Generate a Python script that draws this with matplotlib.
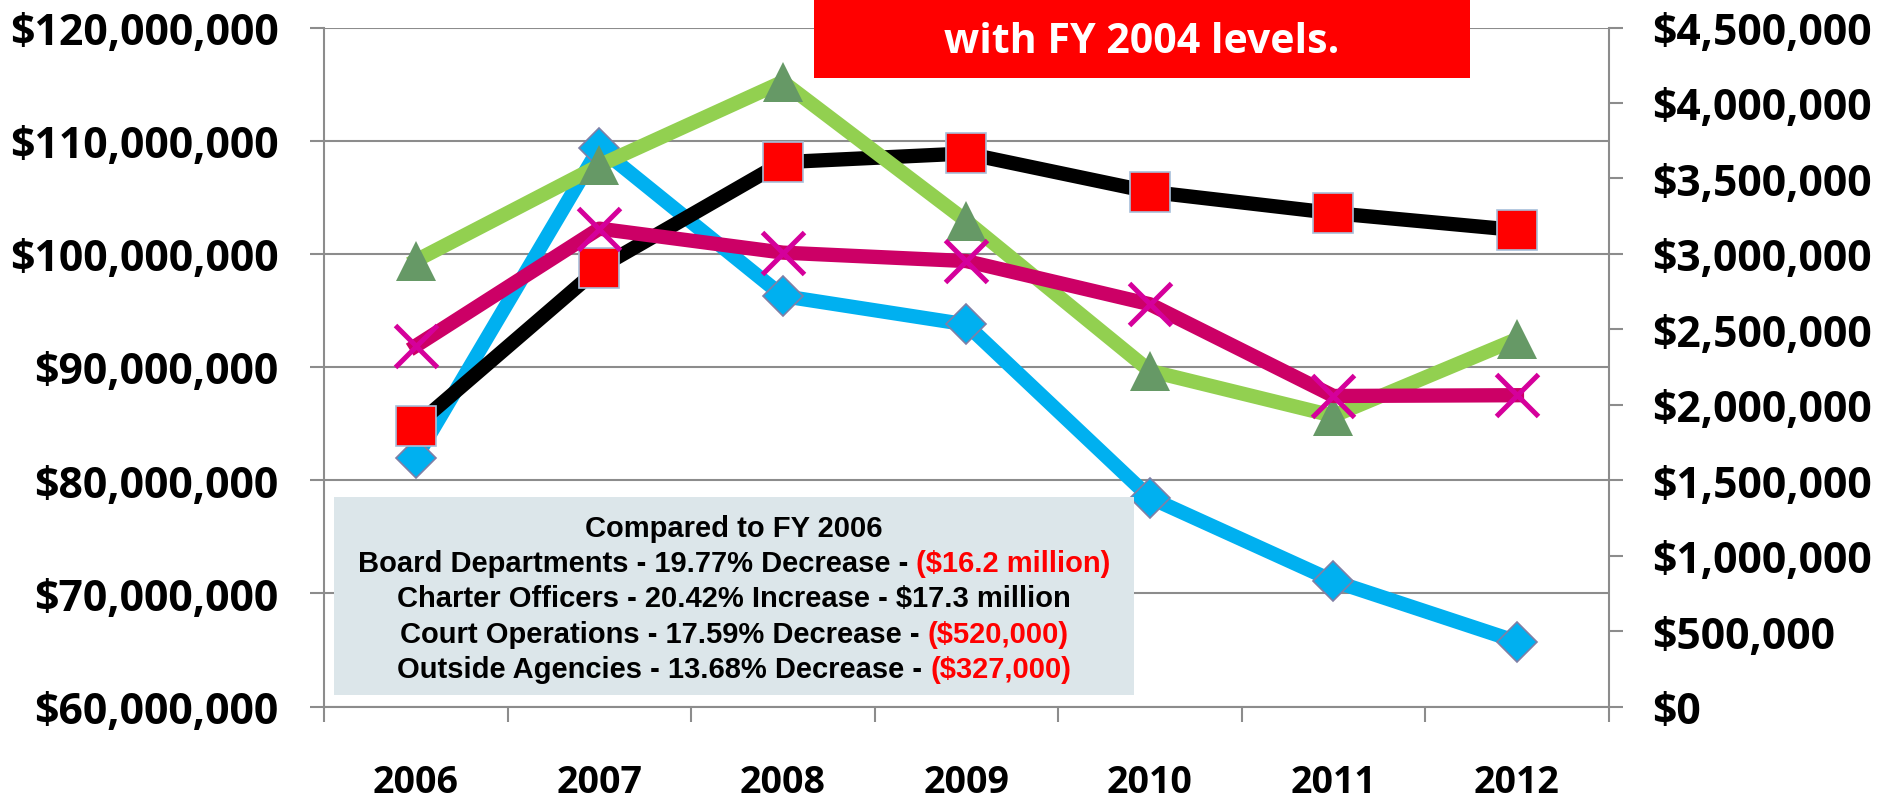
import matplotlib
matplotlib.use('Agg')
import matplotlib.pyplot as plt
import numpy as np
from matplotlib.ticker import FuncFormatter, MultipleLocator
from matplotlib.patches import Rectangle

plt.rcParams['font.family'] = ['Open Sans', 'DejaVu Sans']
plt.rcParams['font.weight'] = 'bold'

# ---- data ----
years = ['2006', '2007', '2008', '2009', '2010', '2011', '2012']
board_departments = [81_940_000, 109_370_000, 96_270_000, 93_760_000, 78_450_000, 71_090_000, 65_740_000]
charter_officers = [84_800_000, 98_770_000, 108_100_000, 108_870_000, 105_480_000, 103_600_000, 102_100_000]
court_operations = [2_955_000, 3_586_000, 4_140_000, 3_217_000, 2_224_000, 1_926_000, 2_435_000]
outside_agencies = [2_390_000, 3_167_000, 3_008_000, 2_952_000, 2_666_000, 2_058_000, 2_063_000]

title_line = 'with FY 2004 levels.'
box_lines = [
    [('Compared to FY 2006', 'black')],
    [('Board Departments - 19.77% Decrease - ', 'black'), ('($16.2 million)', '#FF0000')],
    [('Charter Officers - 20.42% Increase - $17.3 million', 'black')],
    [('Court Operations - 17.59% Decrease - ', 'black'), ('($520,000)', '#FF0000')],
    [('Outside Agencies - 13.68% Decrease - ', 'black'), ('($327,000)', '#FF0000')],
]

W, H = 1881, 803
fig = plt.figure(figsize=(W / 100, H / 100), dpi=100)
renderer = fig.canvas.get_renderer()


def fx(px):
    return px / W


def fy(py):
    return 1 - py / H


def width_of(s, **kw):
    t = fig.text(0, 0, s, **kw)
    w = t.get_window_extent(renderer).width
    t.remove()
    return w


def fit_size(s, target_px, base=28.0, **kw):
    return base * target_px / width_of(s, fontsize=base, fontweight='bold', **kw)


ylab_size = fit_size('$120,000,000', 268)
y2lab_size = fit_size('$4,500,000', 219)
xlab_size = 27
title_size = fit_size(title_line, 395)

ax = fig.add_axes([fx(324), fy(707.5), fx(1608.7) - fx(324), fy(28.5) - fy(707.5)])
ax2 = ax.twinx()

x = np.arange(len(years))
LW = 10.3
ax.plot(x, board_departments, color='#00B0F0', lw=LW, marker='D', ms=20.4,
        mfc='#00B0F0', mec='#7F7FA6', mew=1.2, solid_joinstyle='round', zorder=3)
ax.plot(x, charter_officers, color='black', lw=LW, marker='s', ms=29,
        mfc='#FF0000', mec='#A7BFDA', mew=1.2, solid_joinstyle='round', zorder=4)
ax2.plot(x, court_operations, color='#92D050', lw=LW, marker='^', ms=29.3,
         mfc='#669966', mec='#669966', mew=0, solid_joinstyle='round', zorder=3)
ax2.plot(x, outside_agencies, color='#CC0066', lw=LW, marker='x', ms=30.7,
         mec='#D5009B', mew=3.6, solid_joinstyle='round', zorder=4)

GRID = '#8C8C8C'
ax.set_xlim(-0.5, len(years) - 0.5)
ax.set_ylim(60e6, 120e6)
ax2.set_ylim(0, 4.5e6)
ax.yaxis.set_major_locator(MultipleLocator(10e6))
ax2.yaxis.set_major_locator(MultipleLocator(5e5))
fmt = FuncFormatter(lambda v, p: f"${v:,.0f}")
ax.yaxis.set_major_formatter(fmt)
ax2.yaxis.set_major_formatter(fmt)

ax.grid(axis='y', color=GRID, lw=1.5)
ax.set_axisbelow(True)

for s in ['top', 'right']:
    ax.spines[s].set_visible(False)
for s in ['left', 'bottom']:
    ax.spines[s].set_color(GRID)
    ax.spines[s].set_linewidth(1.5)
for s in ['top', 'left', 'bottom']:
    ax2.spines[s].set_visible(False)
ax2.spines['right'].set_color(GRID)
ax2.spines['right'].set_linewidth(1.5)

ax.set_xticks(x)
ax.set_xticklabels(years)
ax.set_xticks(np.arange(-0.5, len(years), 1), minor=True)
ax.tick_params(axis='x', which='major', length=0, pad=41, labelsize=xlab_size)
ax.tick_params(axis='x', which='minor', length=10.8, width=1.5, color=GRID, direction='out')
ax.tick_params(axis='y', direction='out', length=10.4, width=1.5, color=GRID, pad=22.2, labelsize=ylab_size)
ax2.tick_params(axis='y', direction='out', length=10.4, width=1.5, color=GRID, pad=20.9, labelsize=y2lab_size)

# red title box (top cut off)
fig.patches.append(Rectangle((fx(814), fy(78.7)), fx(1470) - fx(814), 1.05 - fy(78.7),
                             transform=fig.transFigure, facecolor='#FF0000', edgecolor='none', zorder=5))
fig.text(fx(1142), fy(52.7), title_line, color='white', fontsize=title_size, fontweight='bold',
         ha='center', va='baseline', zorder=6)

# annotation box
fig.patches.append(Rectangle((fx(334), fy(695.7)), fx(1134) - fx(334), fy(498) - fy(695.7),
                             transform=fig.transFigure, facecolor='#DCE6EA', edgecolor='none', zorder=5))

cx = 734
baselines = [536.7, 571.7, 607.0, 643.0, 678.0]
tfont = dict(family=['Liberation Sans', 'DejaVu Sans'], fontsize=21, fontweight='bold')

for segs, yb in zip(box_lines, baselines):
    full = ''.join(s for s, c in segs)
    total = width_of(full, **tfont)
    start = cx - total / 2
    if len(segs) == 1:
        fig.text(fx(start), fy(yb), segs[0][0], color=segs[0][1], ha='left', va='baseline', zorder=6, **tfont)
    else:
        red_w = width_of(segs[1][0], **tfont)
        fig.text(fx(start), fy(yb), segs[0][0], color=segs[0][1], ha='left', va='baseline', zorder=6, **tfont)
        fig.text(fx(start + total - red_w), fy(yb), segs[1][0], color=segs[1][1], ha='left', va='baseline', zorder=6, **tfont)

fig.savefig('out.png', dpi=100)
